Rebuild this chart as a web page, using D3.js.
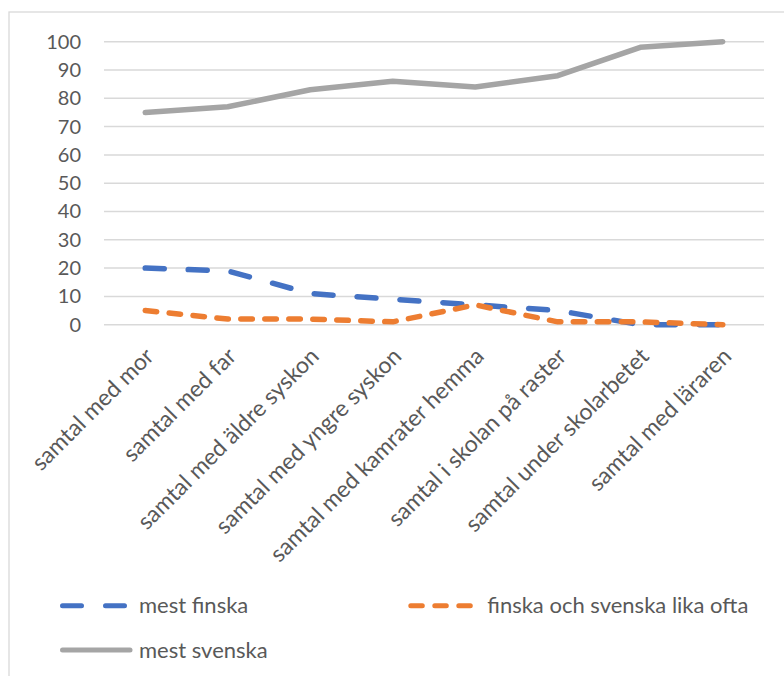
<!DOCTYPE html>
<html>
<head>
<meta charset="utf-8">
<script src="https://cdn.jsdelivr.net/npm/d3@7"></script>
<style>
  html, body { margin: 0; padding: 0; background: #ffffff; }
  svg { display: block; }
</style>
</head>
<body>
<svg id="chart" width="784" height="676"></svg>
<script>
// Situations in which the language is used
const categories = [
  "samtal med mor",
  "samtal med far",
  "samtal med äldre syskon",
  "samtal med yngre syskon",
  "samtal med kamrater hemma",
  "samtal i skolan på raster",
  "samtal under skolarbetet",
  "samtal med läraren"
];

// Share (%) per language choice
const mestFinska = [20, 19, 11, 9, 7, 5, 0, 0];
const likaOfta   = [5, 2, 2, 1, 7, 1, 1, 0];
const mestSvenska = [75, 77, 83, 86, 84, 88, 98, 100];

const seriesNames = ["mest finska", "finska och svenska lika ofta", "mest svenska"];
const yTicks = [0, 10, 20, 30, 40, 50, 60, 70, 80, 90, 100];

const series = [
  { name: seriesNames[0], values: mestFinska, color: "#4472c4", dash: "19 24" },
  { name: seriesNames[1], values: likaOfta,   color: "#ed7d31", dash: "11.5 12.5" },
  { name: seriesNames[2], values: mestSvenska, color: "#a5a5a5", dash: null }
];

const FONT = "Lato, 'Open Sans', sans-serif";
const TEXT = "#595959";

const svg = d3.select("#chart");

// chart frame
svg.append("rect")
  .attr("x", 9).attr("y", 12)
  .attr("width", 900).attr("height", 900)
  .attr("fill", "none")
  .attr("stroke", "#d9d9d9")
  .attr("stroke-width", 1.3);

const plot = { left: 104, right: 764, top: 41.7, bottom: 324.7 };

const x = d3.scaleBand()
  .domain(categories)
  .range([plot.left, plot.right]);

const y = d3.scaleLinear()
  .domain([0, 100])
  .range([plot.bottom, plot.top]);

const cx = c => x(c) + x.bandwidth() / 2;

// horizontal gridlines
svg.append("g")
  .selectAll("line")
  .data(yTicks)
  .join("line")
  .attr("x1", plot.left).attr("x2", plot.right)
  .attr("y1", d => y(d)).attr("y2", d => y(d))
  .attr("stroke", "#d9d9d9")
  .attr("stroke-width", 1.5);

// value axis labels
const yAxis = d3.axisLeft(y).tickValues(yTicks).tickSize(0).tickPadding(23);
const gy = svg.append("g")
  .attr("transform", `translate(${plot.left},0)`)
  .call(yAxis);
gy.select(".domain").remove();
gy.selectAll("text")
  .attr("fill", TEXT)
  .style("font-family", FONT)
  .style("font-size", "20px");

// category labels, rotated
const xAxis = d3.axisBottom(x).tickSize(0).tickPadding(0);
const gx = svg.append("g")
  .attr("transform", `translate(0,${plot.bottom})`)
  .call(xAxis);
gx.select(".domain").remove();
gx.selectAll(".tick text")
  .attr("fill", TEXT)
  .style("font-family", FONT)
  .style("font-size", "23px")
  .attr("text-anchor", "end")
  .attr("dy", null)
  .attr("y", 0)
  .attr("transform", "translate(10,33) rotate(-45)");

// series lines
const line = d3.line()
  .x((d, i) => cx(categories[i]))
  .y(d => y(d));

svg.append("g")
  .selectAll("path")
  .data(series)
  .join("path")
  .attr("d", d => line(d.values))
  .attr("fill", "none")
  .attr("stroke", d => d.color)
  .attr("stroke-width", 5.5)
  .attr("stroke-linecap", "round")
  .attr("stroke-linejoin", "round")
  .attr("stroke-dasharray", d => d.dash);

// legend
const legendPos = [
  { x: 62.5, y: 605.7 },
  { x: 410.8, y: 605.7 },
  { x: 62.5, y: 650 }
];
const lg = svg.append("g")
  .selectAll("g")
  .data(series)
  .join("g")
  .attr("transform", (d, i) => `translate(${legendPos[i].x},${legendPos[i].y})`);

lg.append("line")
  .attr("x1", 0).attr("x2", (d, i) => i === 2 ? 67.5 : 62)
  .attr("y1", 0).attr("y2", 0)
  .attr("stroke", d => d.color)
  .attr("stroke-width", 5)
  .attr("stroke-linecap", "round")
  .attr("stroke-dasharray", d => d.dash);

lg.append("text")
  .attr("x", 76.5)
  .attr("y", 0)
  .attr("dy", "0.35em")
  .attr("fill", TEXT)
  .style("font-family", FONT)
  .style("font-size", "22px")
  .text(d => d.name);
</script>
</body>
</html>
